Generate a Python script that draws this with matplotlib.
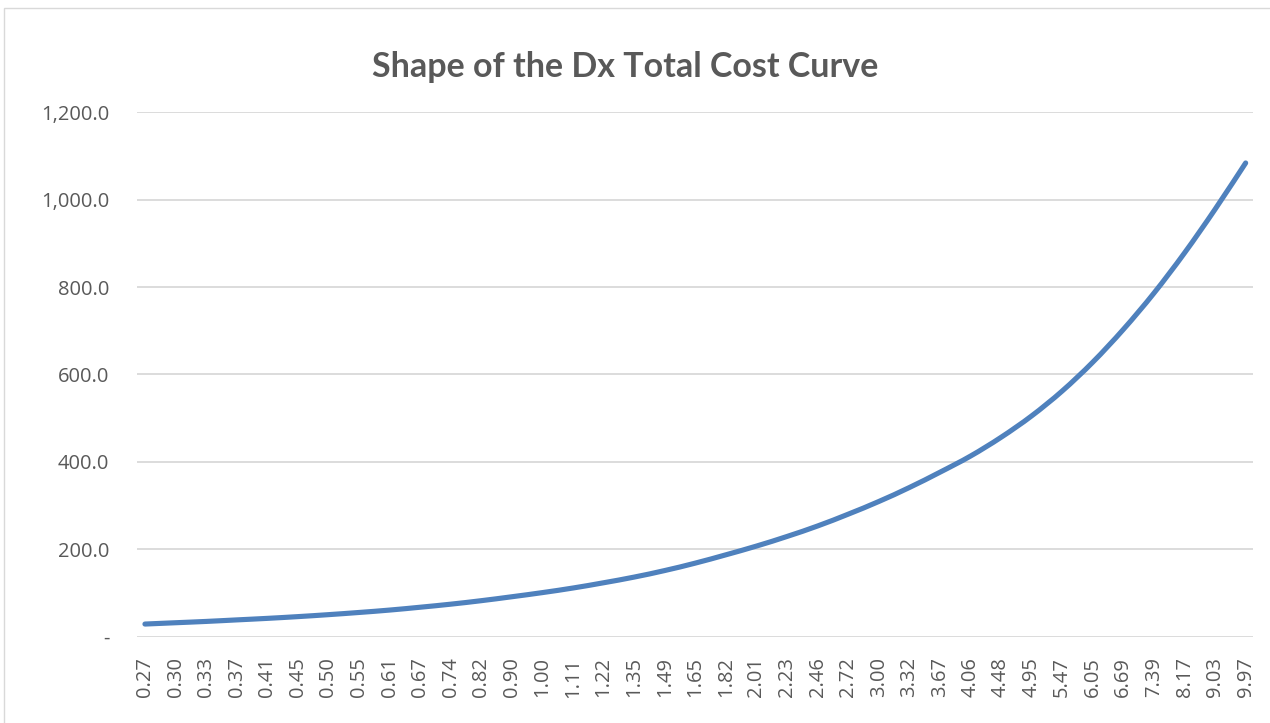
import matplotlib
matplotlib.use("Agg")
import matplotlib.pyplot as plt
from matplotlib.patches import Rectangle, PathPatch
from matplotlib.path import Path

# x categories (every label on the axis) and total cost values
x_labels = ["0.27", "0.30", "0.33", "0.37", "0.41", "0.45", "0.50", "0.55",
            "0.61", "0.67", "0.74", "0.82", "0.90", "1.00", "1.11", "1.22",
            "1.35", "1.49", "1.65", "1.82", "2.01", "2.23", "2.46", "2.72",
            "3.00", "3.32", "3.67", "4.06", "4.48", "4.95", "5.47", "6.05",
            "6.69", "7.39", "8.17", "9.03", "9.97"]
total_cost = [28.5, 31.5, 34.5, 38.0, 41.5, 45.5, 50.0, 55.0,
              60.5, 67.0, 74.0, 82.0, 91.0, 100.5, 111.0, 123.0,
              136.0, 151.0, 168.0, 187.0, 207.0, 229.0, 253.0, 280.0,
              309.0, 341.0, 376.0, 413.0, 456.0, 505.0, 562.0, 628.0,
              703.0, 786.0, 878.0, 978.0, 1084.0]
y_ticks = [0, 200, 400, 600, 800, 1000, 1200]
y_tick_labels = ["-", "200.0", "400.0", "600.0", "800.0", "1,000.0", "1,200.0"]

TEXT = "#595959"
GRID = "#d9d9d9"
LINE = "#4f81bd"


def smooth_path(xs, ys):
    """Smoothed line through the points (Catmull-Rom as cubic Beziers)."""
    pts = list(zip(xs, ys))
    n = len(pts)
    verts = [pts[0]]
    codes = [Path.MOVETO]
    for i in range(n - 1):
        p0 = pts[max(i - 1, 0)]
        p1 = pts[i]
        p2 = pts[i + 1]
        p3 = pts[min(i + 2, n - 1)]
        c1 = (p1[0] + (p2[0] - p0[0]) / 6, p1[1] + (p2[1] - p0[1]) / 6)
        c2 = (p2[0] - (p3[0] - p1[0]) / 6, p2[1] - (p3[1] - p1[1]) / 6)
        verts += [c1, c2, p2]
        codes += [Path.CURVE4] * 3
    return Path(verts, codes)


W, H = 1270, 723
fig = plt.figure(figsize=(W / 100, H / 100), dpi=100)
fig.patch.set_facecolor("white")

# chart border (only top and left edges fall inside the image)
fig.patches.append(Rectangle((3.5 / W, -0.1), 1.2, 1.1 - 8.5 / H,
                             transform=fig.transFigure, fill=False,
                             edgecolor=GRID, linewidth=1.0))

left, right = 137 / W, 1253.3 / W
top, bottom = 1 - 112.3 / H, 1 - 636.5 / H
ax = fig.add_axes([left, bottom, right - left, top - bottom])

pos = list(range(len(x_labels)))
ax.add_patch(PathPatch(smooth_path(pos, total_cost), facecolor="none",
                       edgecolor=LINE, linewidth=3.7, capstyle="round",
                       joinstyle="round", zorder=3))

ax.set_xlim(-0.26, len(x_labels) - 1 + 0.25)
ax.set_ylim(0, 1200)
ax.set_yticks(y_ticks)
ax.set_yticklabels(y_tick_labels)
ax.set_xticks(pos)
ax.set_xticklabels(x_labels, rotation=90, va="top", ha="center")

for lbl in ax.get_yticklabels() + ax.get_xticklabels():
    lbl.set_fontfamily("Open Sans")
    lbl.set_fontsize(14.5)
    lbl.set_color(TEXT)

ax.tick_params(axis="y", length=0, pad=20)
ax.tick_params(axis="x", length=0, pad=15)
ax.grid(axis="y", color=GRID, linewidth=1.3)
ax.set_axisbelow(True)
for s in ax.spines.values():
    s.set_visible(False)

fig.text(625 / W, 1 - 67 / H, "Shape of the Dx Total Cost Curve",
         ha="center", va="center", fontsize=24.5, fontweight="bold",
         fontfamily="Lato", color=TEXT)

fig.savefig("out.png", dpi=100)
